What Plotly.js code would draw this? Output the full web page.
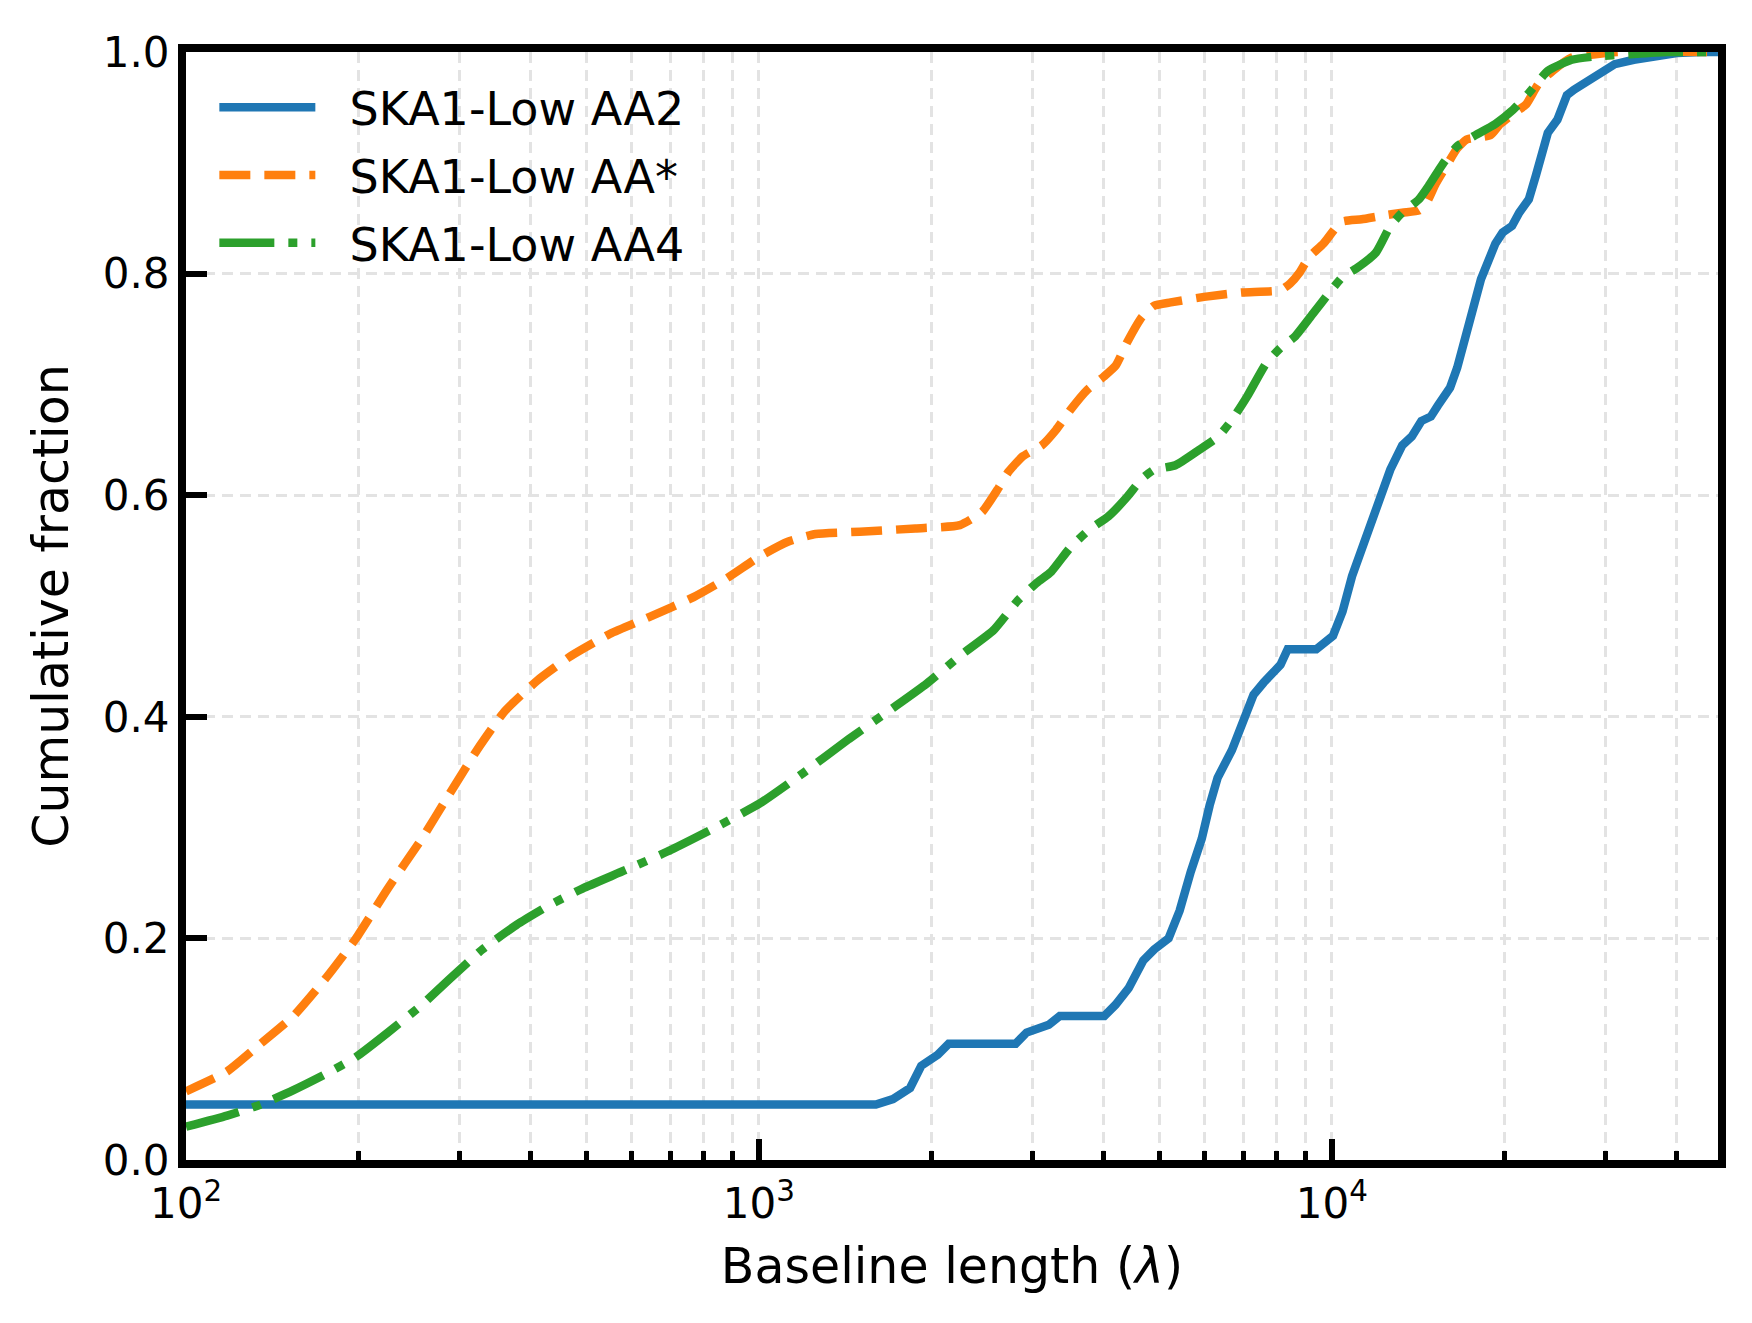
<!DOCTYPE html>
<html>
<head>
<meta charset="utf-8">
<script src="https://cdn.plot.ly/plotly-3.0.1.min.js"></script>
<style>html,body{margin:0;padding:0;background:#fff;}#chart{width:1752px;height:1323px;}</style>
</head>
<body>
<div id="chart"></div>
<script>
// Baseline length (lambda) and cumulative fraction
const aa2X = [100, 1600, 1714, 1836, 1920, 2052, 2144, 2806, 2932, 3206, 3351, 4008, 4191, 4419, 4686, 4897, 5189, 5424, 5671, 5929, 6119, 6318, 6694, 7000, 7300, 7607, 8135, 8373, 9393, 10046, 10440, 10847, 11272, 11714, 12170, 12647, 13270, 13790, 14330, 14890, 15320, 16080, 16549, 17030, 17530, 17870, 18210, 18745, 19290, 19860, 20630, 21230, 22070, 22720, 23370, 23820, 24760, 25720, 26470, 28590, 29420, 31170, 33650, 37050, 39990, 44030, 47200];
const aa2Y = [0.05, 0.05, 0.055, 0.065, 0.085, 0.095, 0.105, 0.105, 0.115, 0.122, 0.13, 0.13, 0.14, 0.155, 0.18, 0.19, 0.2, 0.225, 0.26, 0.29, 0.32, 0.345, 0.37, 0.395, 0.42, 0.431, 0.447, 0.461, 0.461, 0.473, 0.495, 0.527, 0.551, 0.575, 0.599, 0.623, 0.645, 0.653, 0.667, 0.671, 0.681, 0.697, 0.715, 0.739, 0.763, 0.783, 0.795, 0.811, 0.827, 0.837, 0.843, 0.855, 0.867, 0.889, 0.911, 0.927, 0.939, 0.961, 0.966, 0.977, 0.983, 0.989, 0.993, 0.997, 0.999, 1.0, 1.0];

const aaStarX = [100, 118, 135, 154, 176, 198, 225, 258, 288, 322, 360, 411, 470, 550, 643, 769, 879, 1005, 1123, 1256, 1500, 1875, 2243, 2453, 2623, 2725, 2886, 3117, 3301, 3497, 3740, 3999, 4196, 4402, 4664, 4893, 5232, 5984, 6978, 8135, 8453, 8785, 9127, 9667, 10143, 10440, 11272, 12170, 13270, 14190, 14605, 15180, 15920, 16549, 17190, 18923, 19665, 20830, 21850, 22930, 24290, 26230, 28860, 31770, 47200];
const aaStarY = [0.062, 0.08, 0.105, 0.13, 0.165, 0.2, 0.245, 0.29, 0.33, 0.37, 0.405, 0.433, 0.455, 0.475, 0.49, 0.508, 0.525, 0.545, 0.558, 0.565, 0.567, 0.57, 0.573, 0.585, 0.607, 0.621, 0.635, 0.645, 0.659, 0.677, 0.695, 0.707, 0.717, 0.739, 0.761, 0.771, 0.774, 0.779, 0.783, 0.785, 0.791, 0.801, 0.815, 0.827, 0.841, 0.847, 0.849, 0.852, 0.855, 0.857, 0.863, 0.881, 0.899, 0.913, 0.921, 0.925, 0.935, 0.945, 0.953, 0.971, 0.983, 0.995, 0.998, 1.0, 1.0];

const aa4X = [100, 118, 135, 154, 176, 198, 225, 258, 288, 329, 377, 431, 492, 587, 703, 839, 1005, 1200, 1436, 1714, 1963, 2243, 2565, 2831, 3056, 3237, 3497, 3776, 4076, 4402, 4664, 4893, 5333, 5871, 6339, 6714, 7112, 7680, 8135, 8616, 9305, 10046, 10440, 11060, 11940, 12647, 13270, 14190, 14750, 15620, 16549, 17530, 19290, 20630, 22070, 23820, 26230, 28860, 33010, 38480, 47200];
const aa4Y = [0.03, 0.04, 0.05, 0.063, 0.078, 0.093, 0.115, 0.14, 0.163, 0.19, 0.212, 0.23, 0.245, 0.262, 0.28, 0.3, 0.322, 0.35, 0.38, 0.408, 0.43, 0.455, 0.478, 0.505, 0.521, 0.531, 0.553, 0.569, 0.581, 0.599, 0.615, 0.623, 0.627, 0.641, 0.653, 0.669, 0.689, 0.719, 0.733, 0.743, 0.765, 0.787, 0.797, 0.805, 0.819, 0.843, 0.855, 0.867, 0.879, 0.899, 0.915, 0.923, 0.935, 0.947, 0.963, 0.983, 0.993, 0.996, 0.998, 1.0, 1.0];

const seriesNames = ['SKA1-Low AA2', 'SKA1-Low AA*', 'SKA1-Low AA4'];
const xTickVals = [100, 1000, 10000];
const xTickText = ['10<sup>2</sup>', '10<sup>3</sup>', '10<sup>4</sup>'];
const xMinorVals = [200, 300, 400, 500, 600, 700, 800, 900, 2000, 3000, 4000, 5000, 6000, 7000, 8000, 9000, 20000, 30000, 40000];
const yTickVals = [0, 0.2, 0.4, 0.6, 0.8, 1.0];
const yTickText = ['0.0', '0.2', '0.4', '0.6', '0.8', '1.0'];

const FONT = 'DejaVu Sans, Liberation Sans, sans-serif';
const LW = 8.5;
const GAP = '\u00a0\u00a0'; // spacing between legend sample and label

const traces = [
  {x: aa2X, y: aa2Y, name: GAP + seriesNames[0], mode: 'lines', legendgroup: 'a',
   line: {color: '#1f77b4', width: LW}},
  {x: aaStarX, y: aaStarY, name: GAP + seriesNames[1], mode: 'lines', legendgroup: 'b',
   line: {color: '#ff7f0e', width: LW, dash: '31px,14px', shape: 'spline', smoothing: 0.5}},
  {x: aa4X, y: aa4Y, name: GAP + seriesNames[2], mode: 'lines', legendgroup: 'c',
   line: {color: '#2ca02c', width: LW, dash: '55px,14px,9px,14px', shape: 'spline', smoothing: 0.5}}
];

const gridDash = '11px,7px';
const layout = {
  width: 1752, height: 1323,
  margin: {l: 186, r: 34, t: 52, b: 163, pad: 0},
  paper_bgcolor: '#ffffff', plot_bgcolor: '#ffffff',
  font: {family: FONT, color: '#000000', size: 42},
  showlegend: true,
  legend: {
    x: 0.0185, y: 0.983, xanchor: 'left', yanchor: 'top',
    bgcolor: 'rgba(0,0,0,0)', borderwidth: 0,
    font: {family: FONT, size: 46, color: '#000'},
    itemwidth: 96, tracegroupgap: 5, traceorder: 'grouped'
  },
  xaxis: {
    type: 'log', range: [2, 4.674],
    showline: true, linewidth: 8, linecolor: '#000', mirror: true,
    ticks: 'inside', ticklen: 21, tickwidth: 6, tickcolor: '#000',
    tickmode: 'array', tickvals: xTickVals, ticktext: xTickText,
    tickfont: {family: FONT, size: 42, color: '#000'},
    showgrid: true, gridcolor: '#e3e3e3', gridwidth: 3, griddash: gridDash,
    minor: {tickmode: 'array', tickvals: xMinorVals, ticks: 'inside', ticklen: 9, tickwidth: 5, tickcolor: '#000',
            showgrid: true, gridcolor: '#e3e3e3', gridwidth: 3, griddash: gridDash},
    zeroline: false,
    title: {text: 'Baseline length (<i>λ</i>)', font: {family: FONT, size: 49, color: '#000'}, standoff: 24}
  },
  yaxis: {
    range: [0, 1],
    showline: true, linewidth: 8, linecolor: '#000', mirror: true,
    ticks: 'inside', ticklen: 21, tickwidth: 6, tickcolor: '#000',
    tickmode: 'array', tickvals: yTickVals, ticktext: yTickText,
    tickfont: {family: FONT, size: 42, color: '#000'},
    showgrid: true, gridcolor: '#e3e3e3', gridwidth: 3, griddash: gridDash,
    zeroline: false,
    title: {text: 'Cumulative fraction', font: {family: FONT, size: 49, color: '#000'}, standoff: 22}
  }
};

Plotly.newPlot('chart', traces, layout, {displayModeBar: false, staticPlot: true});
</script>
</body>
</html>
